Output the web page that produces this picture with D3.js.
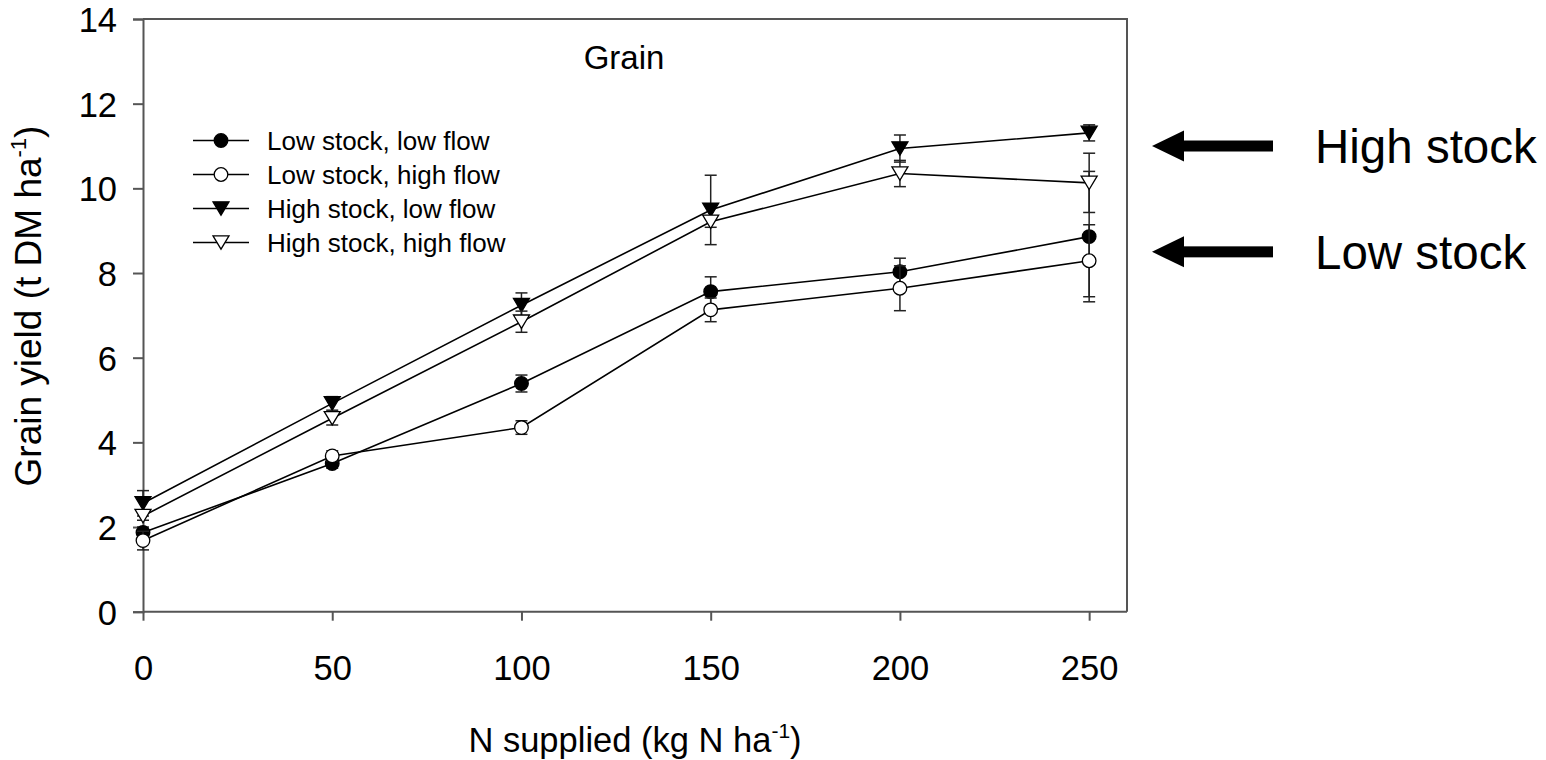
<!DOCTYPE html>
<html>
<head>
<meta charset="utf-8">
<script src="https://cdn.jsdelivr.net/npm/d3@7"></script>
<style>
  html, body { margin: 0; padding: 0; background: #fff; }
  svg text { font-family: Arial, "Liberation Sans", Helvetica, sans-serif; fill: #000; }
</style>
</head>
<body>
<svg id="chart" width="1546" height="760"></svg>
<script>
// ---- data ----
const nSupplied = [0, 50, 100, 150, 200, 250];
const seriesNames = ["Low stock, low flow", "Low stock, high flow", "High stock, low flow", "High stock, high flow"];
const lowStockLowFlow   = [1.87, 3.50, 5.39, 7.56, 8.03, 8.86];
const lowStockLowFlowErr  = [0.13, 0.11, 0.20, 0.35, 0.32, 1.54];
const lowStockHighFlow  = [1.68, 3.68, 4.35, 7.13, 7.64, 8.29];
const lowStockHighFlowErr = [0.22, 0.12, 0.16, 0.28, 0.53, 0.85];
const highStockLowFlow  = [2.56, 4.92, 7.24, 9.49, 10.94, 11.31];
const highStockLowFlowErr = [0.30, 0.16, 0.29, 0.82, 0.32, 0.19];
const highStockHighFlow = [2.26, 4.57, 6.85, 9.21, 10.35, 10.13];
const highStockHighFlowErr = [0.10, 0.16, 0.25, 0.13, 0.31, 0.70];
const xTicks = [0, 50, 100, 150, 200, 250];
const yTicks = [0, 2, 4, 6, 8, 10, 12, 14];
const annotations = [{label: "High stock", value: 11.0}, {label: "Low stock", value: 8.5}];
const chartTitle = "Grain";

// ---- layout ----
const svg = d3.select("#chart");
const L = 143, R = 1127, T = 19, B = 611.7;
const x = d3.scaleLinear().domain([0, 260]).range([L, R]);
const y = d3.scaleLinear().domain([0, 14]).range([B, T]);
const axisColor = "#555";

const series = [
  {name: seriesNames[0], v: lowStockLowFlow, e: lowStockLowFlowErr, shape: "circle", fill: "#000"},
  {name: seriesNames[1], v: lowStockHighFlow, e: lowStockHighFlowErr, shape: "circle", fill: "#fff"},
  {name: seriesNames[2], v: highStockLowFlow, e: highStockLowFlowErr, shape: "tri", fill: "#000"},
  {name: seriesNames[3], v: highStockHighFlow, e: highStockHighFlowErr, shape: "tri", fill: "#fff"}
];

// frame (top & right)
svg.append("path")
  .attr("d", `M${L},${T}H${R}V${B}`)
  .attr("fill", "none").attr("stroke", axisColor).attr("stroke-width", 2);

// axes
const xAxis = d3.axisBottom(x).tickValues(xTicks).tickSize(9).tickPadding(34).tickFormat(d3.format("d"));
const gx = svg.append("g").attr("transform", `translate(0,${B})`).call(xAxis);
gx.select(".domain").attr("d", `M${L},0H${R}`);
const yAxis = d3.axisLeft(y).tickValues(yTicks).tickSize(10).tickPadding(16).tickFormat(d3.format("d"));
const gy = svg.append("g").attr("transform", `translate(${L},0)`).call(yAxis);
[gx, gy].forEach(g => {
  g.selectAll(".domain").attr("stroke", axisColor).attr("stroke-width", 2);
  g.selectAll(".tick line").attr("stroke", axisColor).attr("stroke-width", 2);
  g.selectAll(".tick text").attr("font-size", 34.5).attr("font-family", "Arial, 'Liberation Sans', sans-serif").attr("fill", "#000");
});
gx.selectAll(".tick text").attr("dy", 0).attr("y", 68.5);
gy.selectAll(".tick text").attr("dy", "0.36em");

// axis titles
const xt = svg.append("text").attr("x", (L + R) / 2).attr("y", 752).attr("text-anchor", "middle").attr("font-size", 34.5);
xt.append("tspan").text("N supplied (kg N ha");
xt.append("tspan").attr("dy", -14).attr("font-size", 21).text("-1");
xt.append("tspan").attr("dy", 14).text(")");

const yt = svg.append("text").attr("transform", `translate(41,306) rotate(-90)`).attr("text-anchor", "middle").attr("font-size", 37);
yt.append("tspan").text("Grain yield (t DM ha");
yt.append("tspan").attr("dy", -15).attr("font-size", 22).text("-1");
yt.append("tspan").attr("dy", 15).text(")");

// title
svg.append("text").attr("x", 624).attr("y", 69).attr("text-anchor", "middle").attr("font-size", 33).text(chartTitle);

// marker drawing
function drawMarker(g, shape, fill, cx, cy) {
  if (shape === "circle") {
    g.append("circle").attr("cx", cx).attr("cy", cy).attr("r", 6.8)
      .attr("fill", fill).attr("stroke", "#000").attr("stroke-width", 1.3);
  } else {
    const w = 8, h = 6.7;
    g.append("path").attr("d", `M${cx - w},${cy - h}L${cx + w},${cy - h}L${cx},${cy + h}Z`)
      .attr("fill", fill).attr("stroke", "#000").attr("stroke-width", 1.3).attr("stroke-linejoin", "miter");
  }
}

// series
const line = d3.line().x((d, i) => x(nSupplied[i])).y(d => y(d));
series.forEach(s => {
  const g = svg.append("g");
  g.append("path").datum(s.v).attr("d", line).attr("fill", "none").attr("stroke", "#000").attr("stroke-width", 1.6);
  s.v.forEach((v, i) => {
    const cx = x(nSupplied[i]);
    const top = y(v + s.e[i]), bot = y(v - s.e[i]);
    g.append("line").attr("x1", cx).attr("x2", cx).attr("y1", top).attr("y2", bot).attr("stroke", "#222").attr("stroke-width", 1.5);
    [top, bot].forEach(yy => g.append("line").attr("x1", cx - 6).attr("x2", cx + 6).attr("y1", yy).attr("y2", yy).attr("stroke", "#222").attr("stroke-width", 1.5));
  });
  s.v.forEach((v, i) => drawMarker(g, s.shape, s.fill, x(nSupplied[i]), y(v)));
});

// legend
const lg = svg.append("g");
series.forEach((s, i) => {
  const yy = 140.5 + i * 34;
  lg.append("line").attr("x1", 193).attr("x2", 249).attr("y1", yy).attr("y2", yy).attr("stroke", "#000").attr("stroke-width", 1.6);
  drawMarker(lg, s.shape, s.fill, 221, yy);
  lg.append("text").attr("x", 267).attr("y", yy).attr("dy", "0.36em").attr("font-size", 26).text(s.name);
});

// annotations with arrows
annotations.forEach(a => {
  const yy = y(a.value);
  svg.append("rect").attr("x", 1180).attr("y", yy - 5.5).attr("width", 93).attr("height", 11).attr("fill", "#000");
  svg.append("path").attr("d", `M1152,${yy}L1184,${yy - 15.5}L1184,${yy + 15.5}Z`).attr("fill", "#000");
  svg.append("text").attr("x", 1315).attr("y", yy).attr("dy", "0.36em").attr("font-size", 47.5).text(a.label);
});
</script>
</body>
</html>
